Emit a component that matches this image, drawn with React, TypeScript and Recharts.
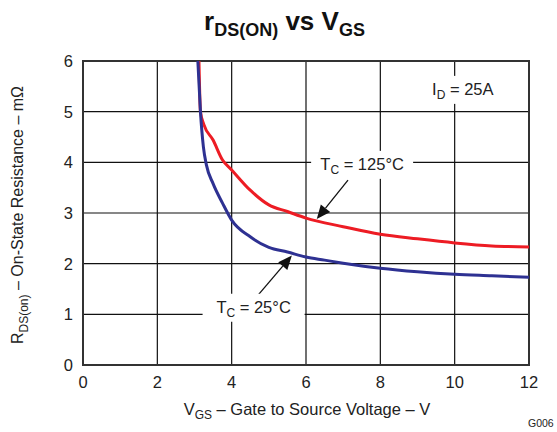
import {
  LineChart,
  Line,
  XAxis,
  YAxis,
  CartesianGrid,
  ReferenceArea,
  ReferenceLine,
  ReferenceDot,
} from "recharts";

// V_GS (V) and r_DS(on) (mOhm)
const vgsHot = [3.12, 3.16, 3.25, 3.5, 3.75, 4, 4.5, 5, 5.5, 6, 7, 8, 9, 10, 11, 12];
const rdsHot = [6, 5, 4.75, 4.44, 4.05, 3.85, 3.45, 3.16, 3.03, 2.9, 2.73, 2.58, 2.49, 2.41, 2.35, 2.33];

const vgsCold = [3.09, 3.16, 3.24, 3.32, 3.5, 3.75, 4, 4.5, 5, 5.5, 6, 6.5, 7, 8, 9, 10, 11, 12];
const rdsCold = [6, 5, 4.3, 3.95, 3.58, 3.2, 2.86, 2.53, 2.32, 2.23, 2.13, 2.07, 2.01, 1.91, 1.84, 1.79, 1.76, 1.73];

const xTicks = [0, 2, 4, 6, 8, 10, 12];
const yTicks = [0, 1, 2, 3, 4, 5, 6];

const hot = vgsHot.map((v, i) => ({ vgs: v, rds: rdsHot[i] }));
const cold = vgsCold.map((v, i) => ({ vgs: v, rds: rdsCold[i] }));

const FONT = "'Liberation Sans', Arial, sans-serif";
const INK = "#222";

// arrow drawn from x1,y1 to an arrowhead at x2,y2
const Arrow = (p: any) => {
  const { x1, y1, x2, y2 } = p;
  const a = Math.atan2(y2 - y1, x2 - x1);
  const len = 14;
  const w = 6;
  const bx = x2 - len * Math.cos(a);
  const by = y2 - len * Math.sin(a);
  const px = -Math.sin(a) * w;
  const py = Math.cos(a) * w;
  return (
    <g>
      <line x1={x1} y1={y1} x2={bx} y2={by} stroke="#111" strokeWidth={1.3} />
      <polygon points={`${x2},${y2} ${bx + px},${by + py} ${bx - px},${by - py}`} fill="#111" />
    </g>
  );
};

const tag = (main: string, sub: string, rest: string, w: number) => (p: any) => {
  const { cx, cy } = p;
  return (
    <g>
      <rect x={cx - w / 2} y={cy - 14} width={w} height={28} fill="#fff" />
      <text x={cx} y={cy + 5} textAnchor="middle" fontFamily={FONT} fontSize={16.5} fill={INK}>
        {main}
        <tspan dy={4} fontSize={12}>{sub}</tspan>
        <tspan dy={-4}>{rest}</tspan>
      </text>
    </g>
  );
};

export default function App() {
  return (
    <div
      style={{
        position: "absolute",
        left: 0,
        top: 0,
        width: 557,
        height: 432,
        background: "#fff",
        fontFamily: FONT,
        color: INK,
      }}
    >
      <div
        style={{
          position: "absolute",
          left: 0,
          width: 569,
          top: 6,
          textAlign: "center",
          fontWeight: "bold",
          fontSize: 26,
          color: "#111",
        }}
      >
        r<sub style={{ fontSize: 18 }}>DS(ON)</sub> vs V<sub style={{ fontSize: 18 }}>GS</sub>
      </div>

      <LineChart
        width={557}
        height={432}
        margin={{ top: 61, right: 28, bottom: 37, left: 53 }}
      >
        <CartesianGrid stroke="#111" strokeWidth={1.2} />
        <XAxis
          dataKey="vgs"
          type="number"
          domain={[0, 12]}
          ticks={xTicks}
          allowDuplicatedCategory={false}
          height={30}
          axisLine={false}
          tickLine={false}
          tickSize={0}
          tickMargin={11}
          tick={{ fontSize: 16.5, fill: INK, fontFamily: FONT }}
        />
        <YAxis
          dataKey="rds"
          type="number"
          domain={[0, 6]}
          ticks={yTicks}
          width={30}
          axisLine={false}
          tickLine={false}
          tickSize={0}
          tickMargin={10}
          tick={{ fontSize: 16.5, fill: INK, fontFamily: FONT }}
        />
        <ReferenceArea x1={0} x2={12} y1={0} y2={6} fill="none" stroke="#333" strokeWidth={2} />
        <Line
          data={hot}
          dataKey="rds"
          type="monotone"
          stroke="#ed1c24"
          strokeWidth={3}
          dot={false}
          isAnimationActive={false}
        />
        <Line
          data={cold}
          dataKey="rds"
          type="monotone"
          stroke="#2e3192"
          strokeWidth={3}
          dot={false}
          isAnimationActive={false}
        />
        <ReferenceDot x={10.22} y={5.43} r={1} shape={tag("I", "D", " = 25A", 90)} />
        <ReferenceDot x={7.51} y={3.95} r={1} shape={tag("T", "C", " = 125°C", 102)} />
        <ReferenceDot x={4.59} y={1.13} r={1} shape={tag("T", "C", " = 25°C", 102)} />
        <ReferenceLine
          segment={[
            { x: 7.13, y: 3.65 },
            { x: 6.29, y: 2.88 },
          ]}
          shape={Arrow}
        />
        <ReferenceLine
          segment={[
            { x: 4.71, y: 1.38 },
            { x: 5.62, y: 2.16 },
          ]}
          shape={Arrow}
        />
      </LineChart>

      <div
        style={{
          position: "absolute",
          left: 20,
          top: 215,
          transform: "translate(-50%, -50%) rotate(-90deg)",
          whiteSpace: "nowrap",
          fontSize: 16,
        }}
      >
        R<sub style={{ fontSize: 12 }}>DS(on)</sub> – On-State Resistance – mΩ
      </div>
      <div
        style={{
          position: "absolute",
          left: 0,
          width: 614,
          top: 400,
          textAlign: "center",
          whiteSpace: "nowrap",
          fontSize: 16.5,
        }}
      >
        V<sub style={{ fontSize: 12 }}>GS</sub> – Gate to Source Voltage – V
      </div>
      <div style={{ position: "absolute", left: 528, top: 417, fontSize: 10.5 }}>G006</div>
    </div>
  );
}
